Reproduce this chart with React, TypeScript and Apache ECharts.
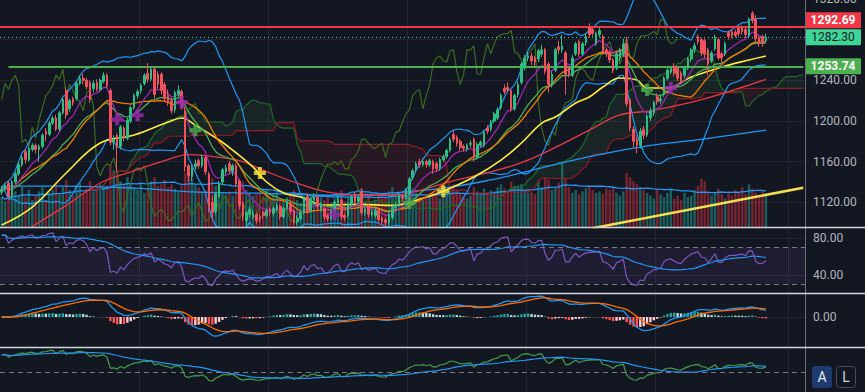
import React, { useEffect, useRef } from "react";
import * as echarts from "echarts";

// [open, close, low, high]
const candles: number[][] = [
  [1130,1133,1127,1136],[1133,1137,1131,1139],[1139,1126,1124,1141],[1126,1140,1124,1142],[1140,1148,1138,1150],
  [1148,1157,1146,1159],[1157,1164,1155,1166],[1170,1162,1158,1172],[1162,1173,1160,1175],[1172,1176,1170,1178],
  [1176,1172,1168,1178],[1172,1175,1160,1177],[1175,1186,1173,1188],[1190,1187,1180,1193],[1187,1198,1185,1200],
  [1198,1203,1196,1205],[1203,1192,1190,1206],[1192,1208,1190,1210],[1208,1221,1206,1223],[1230,1206,1202,1233],
  [1212,1220,1209,1222],[1222,1218,1215,1224],[1222,1237,1220,1239],[1237,1242,1235,1245],[1242,1240,1236,1246],
  [1240,1234,1231,1242],[1238,1221,1218,1240],[1232,1237,1228,1240],[1238,1231,1229,1241],[1231,1240,1229,1242],
  [1239,1245,1237,1248],[1245,1235,1232,1247],[1230,1179,1176,1232],[1179,1182,1172,1186],[1186,1175,1150,1188],
  [1175,1194,1172,1196],[1193,1183,1180,1195],[1183,1201,1181,1203],
  [1200,1213,1198,1215],[1213,1225,1211,1227],[1225,1229,1222,1231],[1230,1235,1227,1237],[1237,1245,1235,1247],
  [1247,1241,1238,1257],[1241,1251,1239,1253],[1251,1226,1222,1253],[1246,1236,1232,1249],[1246,1230,1226,1248],
  [1236,1222,1219,1238],[1225,1219,1215,1231],[1220,1210,1207,1223],[1211,1228,1208,1230],[1226,1230,1223,1235],
  [1229,1214,1211,1231],[1210,1155,1150,1214],[1156,1146,1140,1158],[1145,1154,1141,1157],[1155,1158,1152,1162],
  [1161,1156,1153,1163],[1156,1164,1154,1167],[1164,1150,1147,1166],[1148,1116,1110,1150],[1120,1110,1104,1126],
  [1111,1128,1108,1130],[1126,1139,1124,1141],[1140,1152,1137,1154],[1150,1154,1147,1157],[1158,1151,1148,1161],
  [1150,1156,1146,1158],[1156,1138,1135,1158],[1141,1117,1113,1143],[1119,1106,1102,1121],[1102,1110,1097,1112],
  [1108,1113,1105,1116],[1106,1109,1103,1112],[1108,1102,1099,1110],
  [1106,1103,1100,1108],[1110,1107,1104,1112],[1107,1112,1105,1114],[1113,1110,1107,1115],[1109,1114,1106,1116],
  [1113,1117,1111,1119],[1116,1106,1103,1118],[1106,1114,1104,1116],[1114,1120,1112,1122],[1119,1111,1108,1121],
  [1112,1101,1098,1113],[1101,1104,1098,1107],[1104,1110,1102,1112],[1110,1124,1108,1126],[1126,1112,1109,1128],
  [1112,1123,1110,1125],[1122,1126,1119,1129],[1125,1116,1113,1127],[1113,1118,1111,1120],[1114,1106,1103,1116],
  [1107,1104,1101,1109],[1104,1111,1102,1113],[1112,1120,1110,1122],[1120,1123,1118,1126],[1122,1106,1103,1124],
  [1107,1105,1102,1109],[1107,1118,1105,1120],[1118,1125,1116,1127],[1128,1121,1119,1130],[1121,1125,1119,1127],
  [1130,1110,1107,1134],[1110,1113,1107,1116],[1116,1108,1105,1118],[1108,1110,1106,1113],[1107,1112,1105,1114],
  [1112,1103,1101,1114],[1104,1101,1098,1106],[1103,1100,1097,1105],
  [1100,1108,1097,1110],[1105,1115,1103,1117],[1115,1118,1112,1120],[1118,1126,1116,1128],[1126,1124,1121,1128],
  [1124,1132,1122,1134],[1128,1143,1126,1145],[1144,1151,1142,1153],[1152,1158,1150,1160],[1160,1157,1154,1163],
  [1157,1160,1155,1163],[1160,1157,1154,1162],[1157,1161,1155,1163],[1160,1153,1148,1162],[1158,1153,1150,1160],
  [1153,1162,1151,1164],[1162,1165,1160,1167],[1165,1171,1163,1173],[1171,1182,1169,1184],[1187,1182,1179,1190],
  [1184,1178,1175,1186],[1180,1174,1171,1182],[1175,1173,1170,1177],[1172,1176,1170,1178],[1177,1178,1174,1181],
  [1182,1164,1160,1184],[1164,1177,1162,1179],[1176,1179,1174,1181],[1176,1189,1174,1191],[1193,1190,1187,1196],
  [1192,1199,1190,1201],[1200,1207,1198,1209],[1203,1211,1201,1213],[1213,1225,1211,1227],[1232,1229,1226,1236],
  [1233,1231,1228,1238],[1230,1212,1209,1232],[1212,1225,1210,1227],
  [1226,1236,1223,1239],[1238,1256,1236,1258],[1253,1262,1250,1265],[1262,1264,1259,1268],[1264,1259,1255,1267],
  [1262,1258,1254,1264],[1261,1269,1258,1271],[1266,1270,1263,1275],[1270,1249,1246,1272],[1256,1236,1228,1258],
  [1236,1246,1233,1249],[1250,1270,1248,1272],[1273,1270,1266,1279],[1270,1274,1267,1285],[1267,1246,1226,1269],
  [1252,1246,1243,1254],[1245,1262,1243,1265],[1266,1276,1264,1278],[1278,1266,1263,1280],[1266,1276,1264,1278],
  [1277,1283,1274,1286],[1292,1285,1282,1296],[1290,1286,1283,1292],[1276,1286,1274,1288],[1285,1289,1282,1292],
  [1283,1268,1265,1285],[1270,1266,1263,1272],[1268,1260,1257,1270],[1260,1250,1247,1262],[1252,1266,1250,1268],
  [1262,1270,1259,1272],[1266,1276,1263,1281],[1276,1217,1214,1283],[1221,1193,1190,1223],[1192,1180,1174,1195],
  [1182,1176,1168,1185],[1176,1190,1173,1193],[1192,1186,1182,1195],
  [1186,1205,1184,1207],[1203,1210,1200,1213],[1208,1218,1205,1220],[1224,1219,1216,1227],[1220,1222,1217,1226],
  [1226,1242,1224,1244],[1242,1250,1240,1252],[1248,1252,1246,1254],[1254,1247,1244,1257],[1252,1242,1239,1254],
  [1247,1240,1237,1249],[1245,1252,1242,1254],[1252,1261,1250,1263],[1261,1270,1258,1272],[1270,1274,1267,1277],
  [1283,1278,1275,1285],[1280,1267,1264,1282],[1279,1266,1262,1281],[1270,1256,1245,1272],[1259,1267,1257,1269],
  [1271,1282,1269,1285],[1280,1262,1260,1282],[1266,1262,1258,1268],[1266,1276,1264,1278],[1287,1283,1280,1289],
  [1288,1284,1281,1290],[1287,1284,1282,1290],[1291,1286,1283,1293],[1292,1288,1285,1294],[1290,1285,1282,1292],
  [1284,1300,1282,1302],[1306,1299,1296,1308],[1300,1281,1278,1304],[1282,1276,1273,1284],[1283,1277,1273,1285],
  [1279,1282.3,1277,1286],
];

const volumes: number[] = [
  105,90,120,100,125,110,140,105,130,95, 110,125,140,95,120,130,150,115,140,165,
  130,110,145,155,120,135,160,125,140,150, 135,145,220,200,185,160,150,175,
  150,140,130,155,120,135,160,175,145,150, 165,140,150,135,125,145,190,185,170,150,
  140,125,130,180,170,145,130,120,115,125, 110,135,150,160,130,120,110,115,
  120,110,130,95,115,125,100,90,105,120, 130,95,85,110,120,100,90,115,105,95,
  110,85,100,120,130,90,105,110,95,100, 135,90,110,85,95,115,100,105,
  125,140,110,120,100,115,150,135,120,105, 95,100,110,125,115,100,105,120,135,150,
  130,115,105,100,110,140,125,115,135,120, 130,125,140,150,135,120,160,145,
  140,150,130,120,125,115,160,140,175,165, 130,140,155,225,170,140,120,130,115,125,
  135,145,130,120,125,115,135,130,140,120, 110,125,190,175,160,150,140,130,
  120,110,100,130,115,105,120,135,100,110, 95,120,105,110,130,145,170,160,125,110,
  120,135,115,100,125,110,130,120,140,115, 150,135,120,110,125,115,
];

// slow moving averages: [bar index, price]
const sma50Pts: number[][] = [
  [0,1097.7],[9,1115.4],[19,1148.9],[29,1178.4],[39,1186.2],[49,1199],[53,1203],[57,1196],[64,1181.3],
  [68,1171.4],[74,1154.7],[78,1140],[83,1129.2],[88,1125.2],[95,1117.4],[105,1118],[115,1117],[124,1124],
  [130,1131],[139,1144.9],[147,1161.6],[153,1178.4],[159,1198],[163,1203.9],[169,1217.7],[173,1223.6],
  [177,1233.4],[182,1242.3],[187,1240.3],[190,1232.4],[196,1232.4],[203,1243.2],[212,1253.1],[220,1260],[225,1263.9],
];
const sma100Pts: number[][] = [
  [5,1088],[19,1117],[29,1139],[38,1150],[48,1161],[55,1167],[62,1165],[70,1161],[76,1153],[86,1140],
  [96,1130],[106,1127],[115,1127],[120,1129],[134,1142],[144,1150],[153,1159],[163,1174],[173,1191],
  [182,1206],[191,1210],[206,1221],[225,1241],
];
const sma200Pts: number[][] = [
  [0,1136],[19,1136],[39,1134],[58,1130],[76,1129],[97,1127],[114,1129],[130,1134],[144,1142],[153,1149],
  [173,1165],[191,1176],[206,1182],[225,1191],
];

const purpleCrosses: number[][] = [[34,1201.6],[40,1205.6],[53,1218.5],[98,1108],[197,1232.4]];
const greenCrosses: number[][] = [[57,1191],[120,1119.3],[190,1230.4]];
const yellowCrosses: number[][] = [[76,1148.8],[130,1131]];
const trendLine: number[][] = [[174,1094.6],[236,1134.4]];

const resistanceLevel = 1292.69;
const lastPrice = 1282.3;
const supportLevel = 1253.74;
const supportStartIdx = 2;

const priceTicks = [1120, 1160, 1200, 1240, 1280, 1320];
const priceLabelTicks = [1120, 1160, 1200, 1240, 1320];
const rsiTicks = [40, 80];
const macdTicks = [0];
const gridLineIdx = [41, 79, 120, 155, 193, 232];
const FUTURE_BARS = 11;

function smaArr(a: number[], p: number) {
  return a.map((_, i) => {
    const s = Math.max(0, i - p + 1);
    let sum = 0;
    for (let k = s; k <= i; k++) sum += a[k];
    return sum / (i - s + 1);
  });
}
function emaArr(a: number[], p: number) {
  const al = 2 / (p + 1);
  let prev = a[0];
  return a.map((v, i) => {
    prev = i === 0 ? v : prev + al * (v - prev);
    return prev;
  });
}
function stdArr(a: number[], p: number) {
  return a.map((_, i) => {
    const s = Math.max(0, i - p + 1);
    const n = i - s + 1;
    let m = 0;
    for (let k = s; k <= i; k++) m += a[k];
    m /= n;
    let v = 0;
    for (let k = s; k <= i; k++) v += (a[k] - m) * (a[k] - m);
    return Math.sqrt(v / n);
  });
}
function rsiArr(a: number[], p: number) {
  const n = a.length;
  const out: number[] = new Array(n);
  let g = 0, l = 0;
  const m = Math.min(p, n - 1);
  for (let k = 1; k <= m; k++) {
    const d = a[k] - a[k - 1];
    if (d > 0) g += d; else l -= d;
  }
  g /= m; l /= m;
  out[0] = l === 0 ? 100 : 100 - 100 / (1 + g / l);
  for (let i = 1; i < n; i++) {
    const d = a[i] - a[i - 1];
    g = (g * (p - 1) + Math.max(d, 0)) / p;
    l = (l * (p - 1) + Math.max(-d, 0)) / p;
    out[i] = l === 0 ? 100 : 100 - 100 / (1 + g / l);
  }
  return out;
}

export default function App() {
  const ref = useRef<HTMLDivElement>(null);
  useEffect(() => {
    const el = ref.current!;
    const chart = echarts.init(el, null, { renderer: "svg" });
    const N = candles.length;
    const T = N + FUTURE_BARS;
    const cats = Array.from({ length: T }, (_, i) => String(i));
    const closes = candles.map((d) => d[1]);
    const highs = candles.map((d) => d[3]);
    const lows = candles.map((d) => d[2]);

    const ema9 = emaArr(closes, 9);
    const ema20 = emaArr(closes, 20);
    const sma20 = smaArr(closes, 20);
    const sd20 = stdArr(closes, 20);
    const bbU = sma20.map((m, i) => m + 2 * sd20[i]);
    const bbL = sma20.map((m, i) => m - 2 * sd20[i]);
    const volMA = smaArr(volumes, 20);

    const midRange = (i: number, p: number) => {
      const s = Math.max(0, i - p + 1);
      let hh = -Infinity, ll = Infinity;
      for (let k = s; k <= i; k++) { hh = Math.max(hh, highs[k]); ll = Math.min(ll, lows[k]); }
      return (hh + ll) / 2;
    };
    const spanA: any[] = new Array(T).fill("-");
    const spanB: any[] = new Array(T).fill("-");
    for (let i = 0; i < N; i++) {
      const j = i + 26;
      if (j >= T) break;
      spanA[j] = (midRange(i, 9) + midRange(i, 26)) / 2;
      spanB[j] = midRange(i, 52);
    }
    const cloudBase = spanA.map((a, i) => (a === "-" ? "-" : Math.min(a, spanB[i])));
    const cloudG = spanA.map((a, i) => (a === "-" ? "-" : Math.max(0, a - spanB[i])));
    const cloudR = spanA.map((a, i) => (a === "-" ? "-" : Math.max(0, spanB[i] - a)));
    const chikou = closes.map((_, i) => (i + 26 < N ? closes[i + 26] : "-"));

    const rsi = rsiArr(closes, 14);
    const rsiMA = smaArr(rsi, 21);
    const ema12 = emaArr(closes, 12);
    const ema26 = emaArr(closes, 26);
    const macd = ema12.map((v, i) => v - ema26[i]);
    const signal = emaArr(macd, 9);
    const hist = macd.map((v, i) => v - signal[i]);
    const histData = hist.map((h, i) => {
      const prev = i > 0 ? hist[i - 1] : 0;
      const color = h >= 0 ? (h >= prev ? "#26a69a" : "#b2dfdb") : (h < prev ? "#ff5252" : "#ffcdd2");
      return { value: h, itemStyle: { color } };
    });
    const posMax = Math.max(...macd, ...signal, ...hist, 0.1);
    const negMax = Math.max(...macd.map((v) => -v), ...signal.map((v) => -v), ...hist.map((v) => -v), 0.1);
    const mUnit = Math.min(23 / (posMax * 1.1), 30 / (negMax * 1.1));

    const slow = rsiArr(closes, 28);
    const slowMA = smaArr(slow, 21);
    const sPos = Math.max(...slow.map((v) => v - 50), 1);
    const sNeg = Math.max(...slow.map((v) => 50 - v), 1);
    const sUnit = Math.min(24 / (sPos * 1.1), 20 / (sNeg * 1.1));

    const up = "#2ebd85", down = "#f0535c";
    const volData = volumes.map((v, i) => ({
      value: v,
      itemStyle: { color: candles[i][1] >= candles[i][0] ? "rgba(38,166,154,0.5)" : "rgba(242,54,69,0.45)" },
    }));

    const gridLine = { color: "#232632", width: 1 };
    const axisLabel = { color: "#b2b5be", fontSize: 12, margin: 8, formatter: (v: number) => v.toFixed(2) };
    const line = (data: any[], color: string, width = 1.2, extra: any = {}) => ({
      type: "line", data, symbol: "none", showSymbol: false, silent: true, z: 2,
      lineStyle: { color, width }, itemStyle: { color }, ...extra,
    });
    const xa = (g: number) => ({
      type: "category", gridIndex: g, data: cats, boundaryGap: true,
      axisLine: { show: false }, axisTick: { show: false }, axisLabel: { show: false },
      splitLine: { show: true, interval: (idx: number) => gridLineIdx.includes(idx), lineStyle: gridLine },
    });
    const plus = "path://M4,0H8V4H12V8H8V12H4V8H0V4H4Z";
    const crosses = (data: number[][], color: string) => ({
      type: "scatter", data, symbol: plus, symbolSize: 12, itemStyle: { color }, z: 6, silent: true,
    });
    const gridBase = { left: 0, right: 60, containLabel: false, outerBoundsMode: "none" };

    const option: any = {
      animation: false,
      backgroundColor: "#131722",
      textStyle: { fontFamily: "Roboto, 'Noto Sans', sans-serif" },
      grid: [
        { ...gridBase, top: -1, height: 228 },
        { ...gridBase, top: 228, height: 65 },
        { ...gridBase, top: 294, height: 53 },
        { ...gridBase, top: 348, height: 44 },
      ],
      xAxis: [xa(0), xa(1), xa(2), xa(3)],
      yAxis: [
        {
          gridIndex: 0, position: "right", min: 1320 - 228 / 1.01672, max: 1320,
          axisLine: { show: false }, axisTick: { show: false, customValues: priceTicks },
          axisLabel: { ...axisLabel, customValues: priceLabelTicks }, splitLine: { show: true, lineStyle: gridLine },
        },
        { gridIndex: 0, min: 0, max: 800, show: false, splitLine: { show: false } },
        {
          gridIndex: 1, position: "right", min: 80 - 55 / 0.925, max: 80 + 10 / 0.925,
          axisLine: { show: false }, axisTick: { show: false, customValues: rsiTicks },
          axisLabel: { ...axisLabel, customValues: rsiTicks }, splitLine: { show: true, lineStyle: gridLine },
        },
        {
          gridIndex: 2, position: "right", min: -30 / mUnit, max: 23 / mUnit,
          axisLine: { show: false }, axisTick: { show: false, customValues: macdTicks },
          axisLabel: { ...axisLabel, customValues: macdTicks }, splitLine: { show: true, lineStyle: gridLine },
        },
        { gridIndex: 3, min: 50 - 20 / sUnit, max: 50 + 24 / sUnit, show: false, splitLine: { show: false } },
      ],
      series: [
        { type: "bar", xAxisIndex: 0, yAxisIndex: 1, data: volData, barWidth: "72%", z: 1, silent: true },
        line(volMA, "#2196f3", 1.3, { xAxisIndex: 0, yAxisIndex: 1 }),
        line(cloudBase, "transparent", 0, { stack: "cloud", lineStyle: { opacity: 0 }, z: 1 }),
        line(cloudG, "transparent", 0, { stack: "cloud", lineStyle: { opacity: 0 }, areaStyle: { color: "rgba(76,175,80,0.13)" }, z: 1 }),
        line(cloudR, "transparent", 0, { stack: "cloud", lineStyle: { opacity: 0 }, areaStyle: { color: "rgba(242,54,69,0.13)" }, z: 1 }),
        line(spanA, "#1f6b25", 1.2),
        line(spanB, "#8e1c24", 1.2),
        line(chikou, "#3d6b20", 1.2),
        line(bbU, "#2196f3", 1.2),
        line(bbL, "#2196f3", 1.2),
        line(sma200Pts, "#2196f3", 1.3, { smooth: 0.4 }),
        line(sma100Pts, "#e53945", 1.3, { smooth: 0.4 }),
        line(sma50Pts, "#ffeb3b", 1.6, { smooth: 0.4 }),
        line(ema20, "#4caf50", 1.3),
        line(sma20, "#f57c00", 1.3),
        line(ema9, "#9c27b0", 1.3),
        line(trendLine, "#f5e050", 2.5, { z: 4 }),
        {
          type: "candlestick", xAxisIndex: 0, yAxisIndex: 0, data: candles, barWidth: "62%", z: 5, silent: true,
          itemStyle: { color: up, color0: down, borderColor: up, borderColor0: down, borderWidth: 1 },
          markLine: {
            symbol: "none", silent: true, animation: false, label: { show: false },
            data: [
              { yAxis: resistanceLevel, lineStyle: { color: "#f23645", width: 2, type: "solid" } },
              { yAxis: lastPrice, lineStyle: { color: "#3dd598", width: 1, type: [1, 3] } },
              [
                { coord: [supportStartIdx, supportLevel], lineStyle: { color: "#4caf50", width: 2, type: "solid" } },
                { coord: [T - 1, supportLevel] },
              ],
            ],
          },
        },
        crosses(purpleCrosses, "#9c27b0"),
        crosses(greenCrosses, "#4caf50"),
        crosses(yellowCrosses, "#ffeb3b"),
        // RSI
        line(rsi, "#7e57c2", 1.2, {
          xAxisIndex: 1, yAxisIndex: 2,
          markArea: { silent: true, itemStyle: { color: "rgba(126,87,194,0.1)" }, data: [[{ yAxis: 30 }, { yAxis: 70 }]] },
          markLine: {
            symbol: "none", silent: true, label: { show: false },
            lineStyle: { color: "#787b86", type: [5, 4], width: 1 },
            data: [{ yAxis: 70 }, { yAxis: 30 }],
          },
        }),
        line(rsiMA, "#2196f3", 1.2, { xAxisIndex: 1, yAxisIndex: 2 }),
        // MACD
        { type: "bar", xAxisIndex: 2, yAxisIndex: 3, data: histData, barWidth: "70%", silent: true },
        line(macd, "#2196f3", 1.3, { xAxisIndex: 2, yAxisIndex: 3 }),
        line(signal, "#ff6d00", 1.3, { xAxisIndex: 2, yAxisIndex: 3 }),
        // third pane
        line(slow, "#43a047", 1.2, {
          xAxisIndex: 3, yAxisIndex: 4,
          markLine: {
            symbol: "none", silent: true, label: { show: false },
            lineStyle: { color: "#787b86", type: [5, 4], width: 1 },
            data: [{ yAxis: 50 }],
          },
        }),
        line(slowMA, "#2196f3", 1.2, { xAxisIndex: 3, yAxisIndex: 4 }),
      ],
    };
    chart.setOption(option);

    const tags = [
      { v: resistanceLevel, bg: "#f23645", fg: "#ffffff", w: "bold", fixed: false },
      { v: lastPrice, bg: "#3dd598", fg: "#131722", w: "normal", fixed: true },
      { v: supportLevel, bg: "#4caf50", fg: "#ffffff", w: "bold", fixed: false },
    ].map((t) => ({ ...t, y: chart.convertToPixel({ yAxisIndex: 0 }, t.v) as number }));
    const fixedTag = tags.find((t) => t.fixed)!;
    const TAG_H = 16;
    tags.forEach((t) => {
      if (t.fixed) return;
      if (t.y < fixedTag.y && fixedTag.y - t.y < TAG_H + 1) t.y = fixedTag.y - TAG_H - 1;
      if (t.y > fixedTag.y && t.y - fixedTag.y < TAG_H + 1) t.y = fixedTag.y + TAG_H + 1;
    });
    const AX = 865 - 60;
    const graphic: any[] = [
      { type: "line", shape: { x1: AX + 0.5, y1: 0, x2: AX + 0.5, y2: 392 }, style: { stroke: "#6a6d78", lineWidth: 1 }, z: 10 },
      { type: "line", shape: { x1: 0, y1: 227.5, x2: 865, y2: 227.5 }, style: { stroke: "#d1d4dc", lineWidth: 1.5 }, z: 10 },
      { type: "line", shape: { x1: 0, y1: 293.5, x2: 865, y2: 293.5 }, style: { stroke: "#d1d4dc", lineWidth: 1.5 }, z: 10 },
      { type: "line", shape: { x1: 0, y1: 347.5, x2: 865, y2: 347.5 }, style: { stroke: "#d1d4dc", lineWidth: 1.5 }, z: 10 },
      ...tags.map((t) => ({
        type: "group", z: 20,
        children: [
          { type: "rect", shape: { x: AX, y: t.y - TAG_H / 2, width: 56, height: TAG_H, r: 1 }, style: { fill: t.bg } },
          {
            type: "text", x: AX + 28, y: t.y,
            style: { text: t.v.toFixed(2), fill: t.fg, font: `${t.w} 12px Roboto, sans-serif`, align: "center", verticalAlign: "middle" },
          },
        ],
      })),
      {
        type: "group", z: 20,
        children: [
          { type: "rect", shape: { x: 812, y: 366, width: 20, height: 22, r: 3 }, style: { fill: "#1e3b70" } },
          { type: "text", x: 822, y: 377, style: { text: "A", fill: "#e6e8ee", font: "14px Roboto, sans-serif", align: "center", verticalAlign: "middle" } },
          { type: "rect", shape: { x: 836.5, y: 366.5, width: 19, height: 21, r: 3 }, style: { fill: "transparent", stroke: "#4a4d58", lineWidth: 1 } },
          { type: "text", x: 846, y: 377, style: { text: "L", fill: "#d1d4dc", font: "14px Roboto, sans-serif", align: "center", verticalAlign: "middle" } },
        ],
      },
    ];
    chart.setOption({ graphic });

    return () => chart.dispose();
  }, []);
  return (
    <div
      ref={ref}
      style={{ position: "fixed", left: 0, top: 0, width: 865, height: 392, background: "#131722" }}
    />
  );
}
